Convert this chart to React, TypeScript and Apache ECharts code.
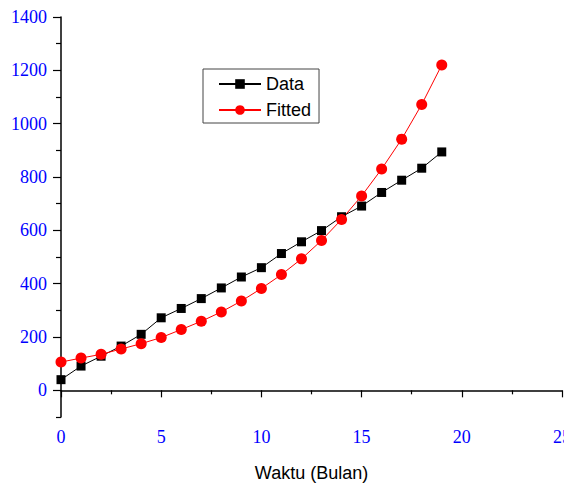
import React, { useEffect, useRef } from "react";
import * as echarts from "echarts";

const months = [0, 1, 2, 3, 4, 5, 6, 7, 8, 9, 10, 11, 12, 13, 14, 15, 16, 17, 18, 19];
const dataValues = [40, 91, 128, 166, 210, 272, 307, 344, 384, 425, 460, 513, 557, 599, 651, 691, 742, 788, 833, 894];
const fittedValues = [106, 121, 135, 155, 175, 198, 228, 259, 294, 335, 382, 434, 493, 562, 641, 729, 830, 942, 1072, 1220];
const yMajorTicks = [0, 200, 400, 600, 800, 1000, 1200, 1400];
const yMinorTicks = [-100, 100, 300, 500, 700, 900, 1100, 1300];

const SERIF = "'Liberation Serif', 'Times New Roman', serif";
const SANS = "'Liberation Sans', Arial, sans-serif";
const BLUE = "#0000ff";

export default function App() {
  const ref = useRef<HTMLDivElement>(null);

  useEffect(() => {
    if (!ref.current) return;
    const chart = echarts.init(ref.current, null, { renderer: "svg" });
    chart.setOption({
      animation: false,
      backgroundColor: "#ffffff",
      grid: { left: 61, right: 2, top: 17, bottom: 66, outerBoundsMode: "none" },
      legend: {
        left: 203,
        top: 69,
        orient: "vertical",
        borderColor: "#444",
        borderWidth: 1,
        padding: [6, 8, 4, 15],
        itemGap: 8,
        itemWidth: 42,
        itemHeight: 12,
        textStyle: { fontFamily: SANS, fontSize: 18, color: "#000" },
        data: ["Data", "Fitted"],
      },
      xAxis: {
        type: "value",
        min: 0,
        max: 25,
        interval: 5,
        name: "Waktu (Bulan)",
        nameLocation: "middle",
        nameGap: 47,
        nameTextStyle: { fontFamily: SANS, fontSize: 18, color: "#000" },
        axisLine: { show: true, lineStyle: { color: "#000", width: 1.5 } },
        axisTick: { show: true, length: 7, lineStyle: { color: "#000", width: 1.2 } },
        minorTick: { show: true, splitNumber: 2, length: 4, lineStyle: { color: "#000", width: 1.2 } },
        axisLabel: { fontFamily: SERIF, fontSize: 18, color: BLUE, margin: 11, showMaxLabel: true },
        splitLine: { show: false },
      },
      yAxis: [
        {
          type: "value",
          min: -100,
          max: 1400,
          interval: 100,
          position: "left",
          axisLine: { show: true, lineStyle: { color: "#000", width: 1.5 } },
          axisTick: { show: true, length: 8, customValues: yMajorTicks, lineStyle: { color: "#000", width: 1.2 } },
          axisLabel: {
            fontFamily: SERIF,
            fontSize: 18,
            color: BLUE,
            margin: 14,
            customValues: yMajorTicks,
            formatter: (v: number) => String(v),
          },
          splitLine: { show: false },
        },
        {
          type: "value",
          min: -100,
          max: 1400,
          interval: 100,
          position: "left",
          offset: 0,
          axisLine: { show: false },
          axisTick: { show: true, length: 5, customValues: yMinorTicks, lineStyle: { color: "#000", width: 1.2 } },
          axisLabel: { show: false },
          splitLine: { show: false },
        },
      ],
      series: [
        {
          name: "Data",
          type: "line",
          yAxisIndex: 0,
          data: months.map((m, i) => [m, dataValues[i]]),
          symbol: "rect",
          symbolSize: 9,
          lineStyle: { color: "#000", width: 1 },
          itemStyle: { color: "#000" },
        },
        {
          name: "Fitted",
          type: "line",
          yAxisIndex: 0,
          data: months.map((m, i) => [m, fittedValues[i]]),
          symbol: "circle",
          symbolSize: 11,
          lineStyle: { color: "#ff0000", width: 1 },
          itemStyle: { color: "#ff0000" },
        },
      ],
    });
    return () => chart.dispose();
  }, []);

  return (
    <div
      ref={ref}
      style={{ position: "fixed", left: 0, top: 0, width: 564, height: 483, background: "#fff" }}
    />
  );
}
